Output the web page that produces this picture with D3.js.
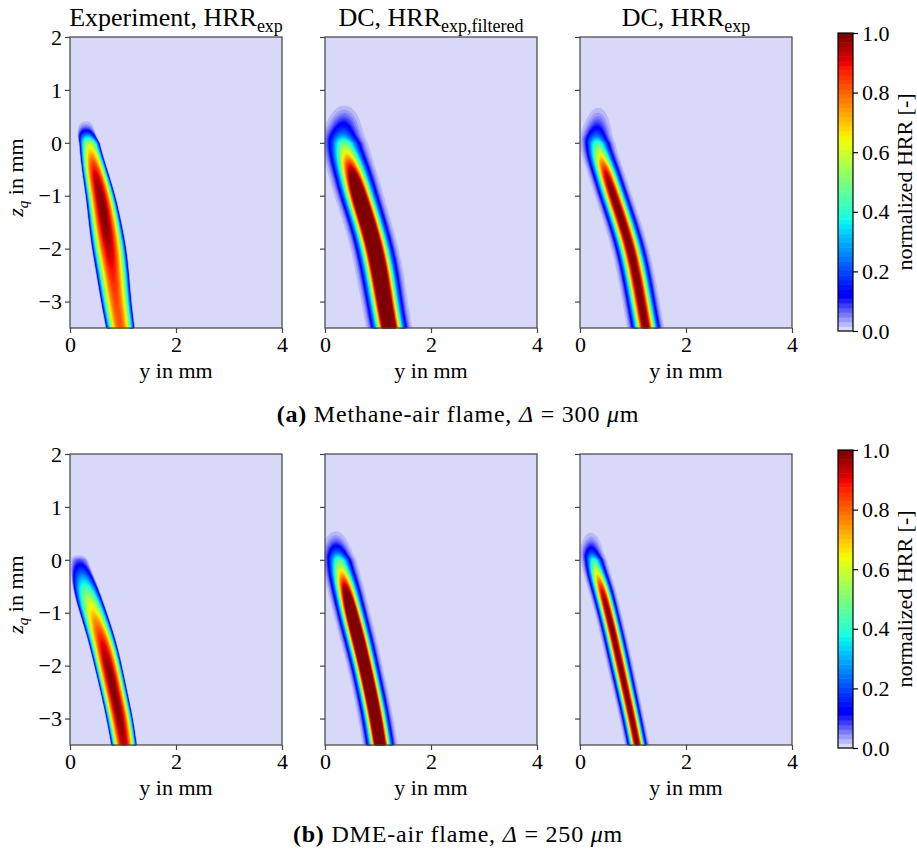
<!DOCTYPE html>
<html>
<head>
<meta charset="utf-8">
<script src="https://cdn.jsdelivr.net/npm/d3@7"></script>
<style>
  body { margin: 0; background: #fff; }
  text { font-family: "Liberation Serif", "Times New Roman", serif; fill: #000; }
</style>
</head>
<body>
<div id="chart"></div>
<script>
"use strict";

// == DATA ==
// heights z (mm) at which the flame band is described, top to bottom
var zKnots = [0.8, 0.6, 0.4, 0.2, 0, -0.5, -1, -1.5, -2, -2.5, -3, -3.5];

// methane-air, experiment
var ch4ExpCenter = [0.3, 0.3, 0.3, 0.3, 0.36, 0.46, 0.58, 0.66, 0.74, 0.81, 0.87, 0.95];
var ch4ExpWidth  = [0.14, 0.14, 0.15, 0.17, 0.19, 0.24, 0.28, 0.31, 0.33, 0.31, 0.29, 0.27];
var ch4ExpPeak   = [0, 0, 0, 0.1, 0.6, 0.93, 1.0, 1.0, 0.95, 0.87, 0.83, 0.82];
// methane-air, DC with filtered HRR
var ch4FiltCenter = [0.37, 0.36, 0.35, 0.33, 0.34, 0.5, 0.64, 0.8, 0.94, 1.04, 1.12, 1.21];
var ch4FiltWidth  = [0.14, 0.15, 0.16, 0.17, 0.17, 0.16, 0.155, 0.15, 0.15, 0.15, 0.145, 0.145];
var ch4FiltPeak   = [0, 0.03, 0.1, 0.2, 0.42, 1.0, 1.35, 1.4, 1.4, 1.4, 1.38, 1.35];
// methane-air, DC with HRR_exp
var ch4DcCenter = [0.35, 0.34, 0.33, 0.31, 0.3, 0.47, 0.63, 0.8, 0.95, 1.06, 1.15, 1.24];
var ch4DcWidth  = [0.12, 0.12, 0.125, 0.13, 0.13, 0.12, 0.12, 0.12, 0.12, 0.12, 0.12, 0.12];
var ch4DcPeak   = [0, 0.02, 0.07, 0.16, 0.38, 0.95, 1.05, 1.05, 1.05, 1.05, 1.05, 1.05];

// DME-air, experiment
var dmeExpCenter = [0.15, 0.15, 0.15, 0.15, 0.16, 0.28, 0.44, 0.6, 0.72, 0.83, 0.94, 1.02];
var dmeExpWidth  = [0.14, 0.14, 0.14, 0.14, 0.16, 0.25, 0.26, 0.26, 0.26, 0.25, 0.25, 0.24];
var dmeExpPeak   = [0, 0, 0, 0, 0, 0.45, 0.7, 0.9, 1.0, 1.0, 1.0, 0.95];
// DME-air, DC with filtered HRR
var dmeFiltCenter = [0.2, 0.2, 0.2, 0.22, 0.25, 0.38, 0.5, 0.63, 0.75, 0.86, 0.96, 1.04];
var dmeFiltWidth  = [0.12, 0.12, 0.12, 0.125, 0.125, 0.12, 0.115, 0.115, 0.11, 0.11, 0.11, 0.11];
var dmeFiltPeak   = [0, 0, 0.04, 0.15, 0.4, 1.0, 1.35, 1.38, 1.38, 1.38, 1.36, 1.35];
// DME-air, DC with HRR_exp
var dmeDcCenter = [0.2, 0.2, 0.21, 0.21, 0.24, 0.4, 0.53, 0.65, 0.76, 0.87, 0.98, 1.08];
var dmeDcWidth  = [0.1, 0.1, 0.1, 0.1, 0.095, 0.09, 0.085, 0.085, 0.085, 0.082, 0.08, 0.08];
var dmeDcPeak   = [0, 0, 0.03, 0.12, 0.35, 0.95, 1.02, 1.02, 1.02, 1.02, 1.02, 1.02];

var titleMain = ["Experiment, HRR", "DC, HRR", "DC, HRR"];
var titleSub = ["exp", "exp,filtered", "exp"];
var xTicks = [0, 2, 4];
var zTicks = [-3, -2, -1, 0, 1, 2];
var cbTicks = [0, 0.2, 0.4, 0.6, 0.8, 1.0];
var captionTag = ["(a)", "(b)"];
var captionFuel = ["Methane-air flame, ", "DME-air flame, "];
var captionDelta = ["300", "250"];

// == BOILERPLATE ==
var W = 917, H = 852;
var svg = d3.select("#chart").append("svg")
    .attr("width", W).attr("height", H);

var colX = [70, 325, 580], rowY = [37, 454];
var pw = 212, ph = 291;

var xScale = d3.scaleLinear().domain([0, 4]).range([0, pw]);
var zScale = d3.scaleLinear().domain([2, -3.5]).range([0, ph]);

// colormap: jet, with the lowest part fading to lavender
var jetR = d3.scaleLinear().domain([0, 0.35, 0.66, 0.89, 1]).range([0, 0, 1, 1, 0.5]);
var jetG = d3.scaleLinear().domain([0, 0.125, 0.375, 0.64, 0.91, 1]).range([0, 0, 1, 1, 0, 0]);
var jetB = d3.scaleLinear().domain([0, 0.11, 0.34, 0.65, 1]).range([0.5, 1, 1, 0, 0]);
var lowRamp = d3.interpolateRgb("rgb(216,216,248)", "rgb(0,0,255)");
function hrrColor(t) {
  if (t < 0.11) return lowRamp(t / 0.11);
  return d3.rgb(jetR(t) * 255, jetG(t) * 255, jetB(t) * 255).toString();
}

var nLev = 64;
var levels = d3.range(nLev + 1).map(function (k) { return k / nLev; });
function bandColor(k) { return hrrColor(Math.min(1, k / (nLev - 1))); }

// smooth profile along z through the knot values
var knotIndex = d3.scaleLinear().domain(zKnots).range(d3.range(zKnots.length)).clamp(true);
function along(arr) {
  var f = d3.interpolateBasis(arr);
  return function (z) { return f(knotIndex(z) / (arr.length - 1)); };
}

var panels = [
  { row: 0, col: 0, c: ch4ExpCenter, w: ch4ExpWidth, p: ch4ExpPeak, kind: "parabola" },
  { row: 0, col: 1, c: ch4FiltCenter, w: ch4FiltWidth, p: ch4FiltPeak, kind: "gauss" },
  { row: 0, col: 2, c: ch4DcCenter, w: ch4DcWidth, p: ch4DcPeak, kind: "gauss" },
  { row: 1, col: 0, c: dmeExpCenter, w: dmeExpWidth, p: dmeExpPeak, kind: "parabola" },
  { row: 1, col: 1, c: dmeFiltCenter, w: dmeFiltWidth, p: dmeFiltPeak, kind: "gauss" },
  { row: 1, col: 2, c: dmeDcCenter, w: dmeDcWidth, p: dmeDcPeak, kind: "gauss" }
];

var fontTick = 22;

panels.forEach(function (pan) {
  var cAt = along(pan.c), wAt = along(pan.w), pAt = along(pan.p);

  var nx = pw, ny = ph;
  var values = new Array(nx * ny);
  for (var j = 0; j < ny; j++) {
    var z = zScale.invert(j + 0.5);
    var c = cAt(z), w = wAt(z), p = Math.max(0, pAt(z));
    for (var i = 0; i < nx; i++) {
      var d = (xScale.invert(i + 0.5) - c) / w;
      var v;
      if (pan.kind === "gauss") v = p * Math.exp(-0.5 * d * d);
      else v = p * Math.max(0, 1 - d * d);
      values[j * nx + i] = v;
    }
  }

  var contours = d3.contours().size([nx, ny]).thresholds(levels)(values);

  var g = svg.append("g")
      .attr("transform", "translate(" + colX[pan.col] + "," + rowY[pan.row] + ")");

  g.append("rect").attr("width", pw).attr("height", ph).attr("fill", bandColor(0));

  g.selectAll("path.lev")
    .data(contours)
    .enter()
    .append("path")
    .attr("class", "lev")
    .attr("d", d3.geoPath())
    .attr("fill", function (d, k) { return bandColor(k); })
    .attr("stroke", function (d, k) { return bandColor(k); })
    .attr("stroke-width", 0.3);

  // frame
  g.append("rect").attr("width", pw).attr("height", ph)
    .attr("fill", "none").attr("stroke", "#444").attr("stroke-width", 1.2);

  // axes
  var ax = g.append("g").attr("transform", "translate(0," + ph + ")")
    .call(d3.axisBottom(xScale).tickValues(xTicks).tickFormat(d3.format("d")).tickSize(5).tickSizeOuter(0));
  var az = g.append("g")
    .call(d3.axisLeft(zScale).tickValues(zTicks).tickFormat(d3.format("d")).tickSize(5).tickSizeOuter(0));
  [ax, az].forEach(function (a) {
    a.select(".domain").remove();
    a.selectAll("line").attr("stroke", "#444").attr("stroke-width", 1.2);
    a.selectAll("text").attr("font-size", fontTick).attr("font-family", "Liberation Serif");
  });
  ax.selectAll("text").attr("dy", null).attr("y", 24);
  az.selectAll("text").attr("x", -8).attr("dy", "0.33em");
  if (pan.col > 0) az.selectAll("text").remove();

  g.append("text")
    .attr("x", pw / 2).attr("y", ph + 50)
    .attr("text-anchor", "middle").attr("font-size", 22)
    .text("y in mm");

  if (pan.col === 0) {
    var yl = g.append("text")
      .attr("transform", "translate(" + (-47) + "," + (ph * 0.5 - 5) + ") rotate(-90)")
      .attr("text-anchor", "middle").attr("font-size", 22);
    yl.append("tspan").attr("font-style", "italic").text("z");
    yl.append("tspan").attr("font-style", "italic").attr("font-size", 15).attr("dy", 5).text("q");
    yl.append("tspan").attr("dy", -5).text(" in mm");
  }

  if (pan.row === 0) {
    var t = g.append("text")
      .attr("x", pw / 2).attr("y", -11)
      .attr("text-anchor", "middle").attr("font-size", 26);
    t.append("tspan").text(titleMain[pan.col]);
    t.append("tspan").attr("font-size", 18).attr("dy", 6).text(titleSub[pan.col]);
  }
});

// == COLORBARS ==
var cbX = 838, cbW = 15;
[0, 1].forEach(function (r) {
  var top = rowY[r] - 4, hgt = ph + 7;
  var cb = d3.scaleLinear().domain([0, 1]).range([hgt, 0]);
  var g = svg.append("g").attr("transform", "translate(" + cbX + "," + top + ")");
  g.selectAll("rect.band")
    .data(d3.range(nLev))
    .enter()
    .append("rect")
    .attr("class", "band")
    .attr("x", 0).attr("width", cbW)
    .attr("y", function (k) { return cb(levels[k + 1]); })
    .attr("height", function (k) { return cb(levels[k]) - cb(levels[k + 1]) + 0.5; })
    .attr("fill", function (k) { return bandColor(k); });
  g.append("rect").attr("width", cbW).attr("height", hgt)
    .attr("fill", "none").attr("stroke", "#000").attr("stroke-width", 1.2);
  var a = g.append("g").attr("transform", "translate(" + cbW + ",0)")
    .call(d3.axisRight(cb).tickValues(cbTicks).tickFormat(d3.format(".1f")).tickSize(5).tickSizeOuter(0));
  a.select(".domain").remove();
  a.selectAll("line").attr("stroke", "#000").attr("stroke-width", 1.2);
  a.selectAll("text").attr("font-size", fontTick).attr("font-family", "Liberation Serif").attr("x", 9);
  g.append("text")
    .attr("transform", "translate(" + 74 + "," + (hgt / 2) + ") rotate(-90)")
    .attr("text-anchor", "middle").attr("font-size", 22)
    .text("normalized HRR [-]");
});

// == CAPTIONS ==
var capY = [422, 842];
[0, 1].forEach(function (r) {
  var t = svg.append("text")
    .attr("x", 458).attr("y", capY[r])
    .attr("text-anchor", "middle").attr("font-size", 24)
    .attr("letter-spacing", 0.8);
  t.append("tspan").attr("font-weight", "bold").text(captionTag[r]);
  t.append("tspan").text(" " + captionFuel[r]);
  t.append("tspan").attr("font-style", "italic").text("Δ");
  t.append("tspan").text(" = " + captionDelta[r] + " ");
  t.append("tspan").attr("font-style", "italic").text("μ");
  t.append("tspan").text("m");
});
</script>
</body>
</html>
